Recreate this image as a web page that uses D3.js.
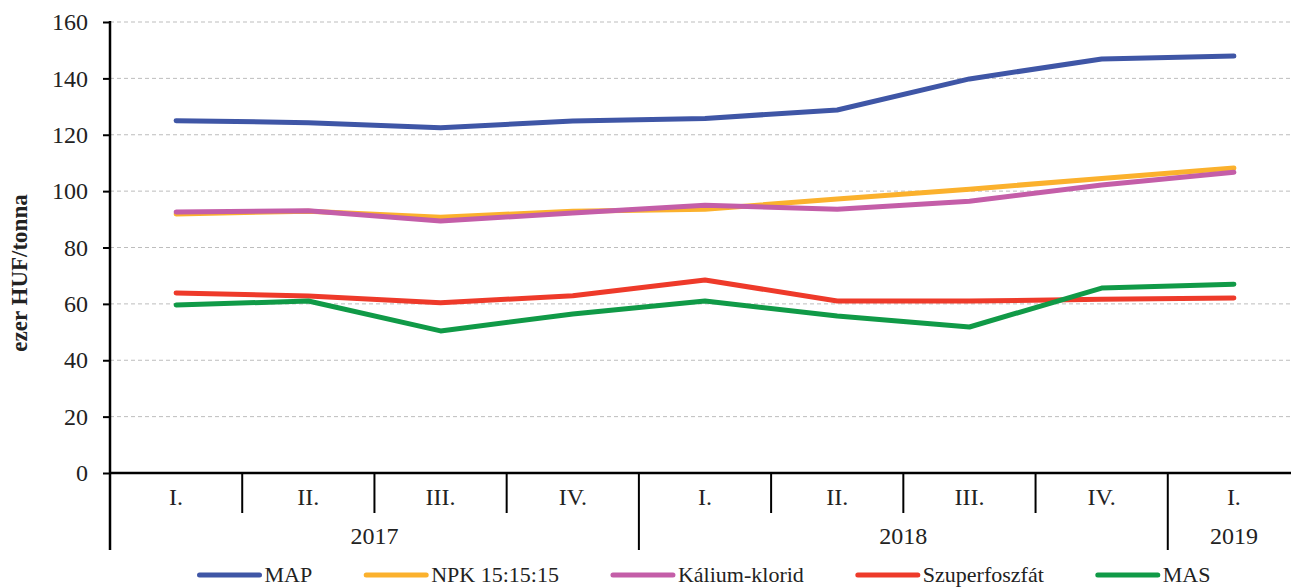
<!DOCTYPE html>
<html>
<head>
<meta charset="utf-8">
<script src="https://cdn.jsdelivr.net/npm/d3@7"></script>
<style>
  body { margin: 0; background: #fff; }
  text { font-family: "Liberation Serif", "Times New Roman", serif; fill: #222; }
</style>
</head>
<body>
<div id="viz"></div>
<script>
// quarters and years
var quarters = ["I.", "II.", "III.", "IV.", "I.", "II.", "III.", "IV.", "I."];
var years = [
  { label: "2017", from: 0, to: 4 },
  { label: "2018", from: 4, to: 8 },
  { label: "2019", from: 8, to: 9 }
];
var yTicks = [0, 20, 40, 60, 80, 100, 120, 140, 160];

// series values, ezer HUF/tonna
var seriesNames = ["MAP", "NPK 15:15:15", "Kálium-klorid", "Szuperfoszfát", "MAS"];
var seriesColors = ["#3f56a6", "#fbb12d", "#c45ea8", "#ee3a2a", "#109a47"];
var map = [125, 124.3, 122.5, 124.9, 125.8, 128.8, 139.8, 146.9, 147.9];
var npk = [91.9, 92.9, 90.7, 92.9, 93.6, 97.2, 100.7, 104.5, 108.2];
var kalium = [92.6, 93, 89.4, 92.2, 95, 93.6, 96.4, 102.2, 106.7];
var szuper = [63.9, 62.8, 60.4, 62.9, 68.5, 61, 61, 61.6, 62.1];
var mas = [59.6, 61, 50.4, 56.4, 61, 55.7, 51.8, 65.6, 67];
var seriesValues = [map, npk, kalium, szuper, mas];

var W = 1291, H = 587;
var margin = { left: 110, top: 22 };
var plotRight = 1300;
var plotBottom = 473;

var svg = d3.select("#viz").append("svg")
  .attr("width", W)
  .attr("height", H);

var x = d3.scaleBand()
  .domain(d3.range(quarters.length))
  .range([margin.left, plotRight])
  .padding(0);

var y = d3.scaleLinear()
  .domain([0, 160])
  .range([plotBottom, margin.top]);

// grid
svg.append("g")
  .selectAll("line")
  .data(yTicks.filter(function (d) { return d > 0; }))
  .enter().append("line")
  .attr("x1", margin.left)
  .attr("x2", plotRight)
  .attr("y1", function (d) { return y(d); })
  .attr("y2", function (d) { return y(d); })
  .attr("stroke", "#bdbdbd")
  .attr("stroke-width", 1)
  .attr("stroke-dasharray", "4,3");

// y axis
var yAxis = d3.axisLeft(y).tickValues(yTicks).tickSize(7).tickPadding(15);
var gy = svg.append("g")
  .attr("transform", "translate(" + margin.left + ",0)")
  .call(yAxis);
gy.select(".domain").remove();
gy.selectAll(".tick line").attr("stroke", "#000").attr("stroke-width", 2);
gy.selectAll(".tick text")
  .style("font-family", "'Liberation Serif', serif")
  .style("font-size", "24px")
  .attr("fill", "#222");
svg.append("line")
  .attr("x1", margin.left).attr("x2", margin.left)
  .attr("y1", margin.top - 1).attr("y2", 550)
  .attr("stroke", "#000").attr("stroke-width", 2.5);

svg.append("text")
  .attr("transform", "translate(27," + 273 + ") rotate(-90)")
  .attr("text-anchor", "middle")
  .style("font-size", "23px")
  .style("font-weight", "bold")
  .text("ezer HUF/tonna");

// x axis
svg.append("line")
  .attr("x1", margin.left).attr("x2", plotRight)
  .attr("y1", plotBottom).attr("y2", plotBottom)
  .attr("stroke", "#000").attr("stroke-width", 2.5);

var yearStarts = years.map(function (d) { return d.from; });
svg.append("g")
  .selectAll("line")
  .data(d3.range(1, quarters.length))
  .enter().append("line")
  .attr("x1", function (i) { return x(i); })
  .attr("x2", function (i) { return x(i); })
  .attr("y1", plotBottom)
  .attr("y2", function (i) { return yearStarts.indexOf(i) >= 0 ? 550 : 513; })
  .attr("stroke", "#000")
  .attr("stroke-width", 2);

svg.append("g")
  .selectAll("text")
  .data(quarters)
  .enter().append("text")
  .attr("x", function (d, i) { return x(i) + x.bandwidth() / 2; })
  .attr("y", 505)
  .attr("text-anchor", "middle")
  .style("font-size", "24px")
  .text(function (d) { return d; });

svg.append("g")
  .selectAll("text")
  .data(years)
  .enter().append("text")
  .attr("x", function (d) { return (x(d.from) + (d.to < quarters.length ? x(d.to) : plotRight)) / 2; })
  .attr("y", 544)
  .attr("text-anchor", "middle")
  .style("font-size", "24px")
  .text(function (d) { return d.label; });

// lines
var line = d3.line()
  .x(function (d, i) { return x(i) + x.bandwidth() / 2; })
  .y(function (d) { return y(d); });

svg.append("g")
  .selectAll("path")
  .data(seriesValues)
  .enter().append("path")
  .attr("d", line)
  .attr("fill", "none")
  .attr("stroke", function (d, i) { return seriesColors[i]; })
  .attr("stroke-width", 5)
  .attr("stroke-linecap", "round")
  .attr("stroke-linejoin", "round");

// legend
var legend = svg.append("g");
var items = legend.selectAll("g")
  .data(seriesNames)
  .enter().append("g");
items.append("line")
  .attr("x1", 0).attr("x2", 60)
  .attr("y1", 575).attr("y2", 575)
  .attr("stroke", function (d, i) { return seriesColors[i]; })
  .attr("stroke-width", 5)
  .attr("stroke-linecap", "round");
items.append("text")
  .attr("x", 65)
  .attr("y", 582)
  .style("font-size", "22px")
  .text(function (d) { return d; });

var offset = 0;
var widths = [];
items.each(function () {
  var w = 65 + d3.select(this).select("text").node().getComputedTextLength();
  widths.push(w);
});
var gap = 54;
var total = d3.sum(widths) + gap * (widths.length - 1);
var startX = (margin.left + plotRight) / 2 - total / 2;
items.attr("transform", function (d, i) {
  var tx = startX + offset;
  offset += widths[i] + gap;
  return "translate(" + tx + ",0)";
});
</script>
</body>
</html>
